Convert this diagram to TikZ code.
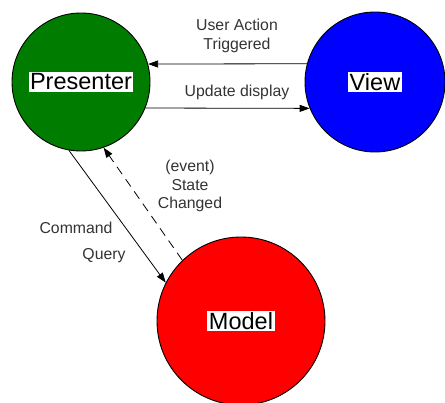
\documentclass[tikz,border=0pt]{standalone}
\usepackage{fontspec}
\setmainfont{Liberation Sans}
\usetikzlibrary{arrows.meta}
\definecolor{pgreen}{RGB}{0,125,0}
\definecolor{vblue}{RGB}{0,0,255}
\definecolor{mred}{RGB}{255,0,0}
\tikzset{
  ball/.style={circle, draw=black, line width=0.9pt, inner sep=0pt},
  namebox/.style={fill=white, inner sep=1.5pt, font=\fontsize{23.5}{26}\selectfont},
  lbl/.style={align=center, text=black!80, font=\fontsize{15.8}{18.8}\selectfont},
  flow/.style={line width=0.8pt, -{Triangle[length=10pt,width=7pt]}},
}
\begin{document}
\begin{tikzpicture}[x=1pt, y=-1pt]
  \useasboundingbox (0,0) rectangle (445,403);
  % the three actors
  \node[ball, fill=pgreen, minimum size=138pt] (P) at (81,82) {};
  \node[ball, fill=vblue, minimum size=140pt] (V) at (375,82) {};
  \node[ball, fill=mred, minimum size=168pt] (M) at (241,321) {};
  \node[namebox] (Pt) at (P) {Presenter};
  \node[namebox] (Vt) at (V) {View};
  \node[namebox] (Mt) at (M) {Model};
  % presenter <-> view
  \draw[flow] (V.165) -- (P.15);
  \draw[flow] (P.-22) -- (V.202);
  % presenter <-> model
  \draw[flow] (P.-100) -- (M.153);
  \draw[flow, dash pattern=on 9pt off 6pt] (M.134) -- (P.-71);
  % labels
  \node[lbl] (la) at (237,36) {User Action\\Triggered};
  \node[lbl] (lb) at (237,92) {Update display};
  \node[lbl] (lc) at (190,186) {(event)\\State\\Changed};
  \node[lbl] (ld) at (76,228) {Command};
  \node[lbl] (le) at (104,256) {Query};
\end{tikzpicture}
\end{document}
